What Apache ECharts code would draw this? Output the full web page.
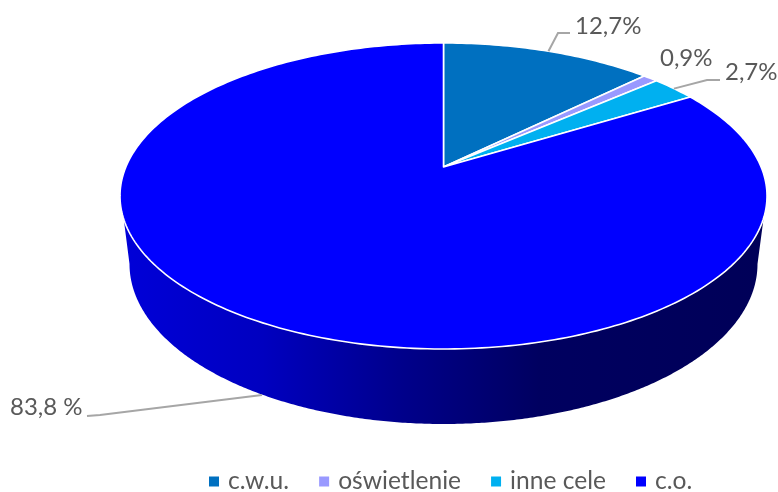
<!DOCTYPE html>
<html>
<head>
<meta charset="utf-8">
<style>html,body{margin:0;padding:0;background:#fff}#c{width:778px;height:492px}</style>
<script src="https://cdn.jsdelivr.net/npm/echarts@6/dist/echarts.min.js"></script>
</head>
<body>
<div id="c"></div>
<script>
// Data
const categories = ['c.w.u.', 'oświetlenie', 'inne cele', 'c.o.'];
const shares = [12.7, 0.9, 2.7, 83.8];
const shareLabels = ['12,7%', '0,9%', '2,7%', '83,8 %'];
const colors = ['#0070C0', '#9999FF', '#00B0F0', '#0000FF'];

// Layout of the drawn perspective disc
const CX = 443.5, RX = 323.5, TOP = 43, APEX = 167, BOTTOM = 349;
const persp = (function () {
  // y = (a v + APEX) / (c v + 1), fitted so v=-1 -> TOP and v=1 -> BOTTOM
  const c = (2 * APEX - TOP - BOTTOM) / (BOTTOM - TOP);
  const a = BOTTOM * (1 + c) - APEX;
  return { c: c, a: a, k: RX * Math.sqrt(1 - c * c) };
})();
const wallStops = [
  [0, '#0000d8'], [0.217, '#0000c0'], [0.43, '#00008c'], [0.65, '#000060'], [1, '#000058']
];
// Lower rim of the side wall
const RIM = { cy: 264, rx: 314, ry: 160, joinY: 218 };
const EDGE = { cy: 196, ry: 153 };
// Leader bends and label positions (page pixels)
const labelPos = [[575, 26], [660, 58], [725, 72], [10, 407]];
const leaderTail = [
  [[558, 33], [570, 33]],
  [],
  [[707, 80], [720, 80]],
  [[100, 415], [87, 416]]
];
const FONT = '24px Lato, "Noto Sans", sans-serif';

const total = shares.reduce((s, v) => s + v, 0);
function project(deg) {
  const t = deg * Math.PI / 180, u = Math.sin(t), v = -Math.cos(t);
  const d = 1 + persp.c * v;
  return [CX + persp.k * u / d, (persp.a * v + APEX) / d];
}
function startDeg(i) {
  let s = 0;
  for (let j = 0; j < i; j++) s += shares[j];
  return s / total * 360;
}
function wallPoints() {
  const pts = [];
  const dy = (RIM.joinY - EDGE.cy) / EDGE.ry;
  const a0 = Math.asin(dy);
  for (let a = a0; a <= Math.PI - a0 + 1e-6; a += Math.PI / 360) {
    pts.push([CX + RX * Math.cos(a), EDGE.cy + EDGE.ry * Math.sin(a)]);
  }
  for (let a = Math.PI; a >= 0; a -= Math.PI / 360) {
    pts.push([CX + RIM.rx * Math.cos(a), RIM.cy + RIM.ry * Math.sin(a)]);
  }
  return pts;
}
function renderSlice(params, api) {
  const i = params.seriesIndex;
  const value = api.value(0);
  const from = startDeg(i), sweep = value / total * 360;
  const pts = [[CX, APEX]];
  const steps = Math.max(4, Math.ceil(sweep));
  for (let s = 0; s <= steps; s++) pts.push(project(from + sweep * s / steps));
  const children = [];
  if (i === 3) {
    children.push({
      type: 'polygon', shape: { points: wallPoints() },
      style: { fill: { type: 'linear', x: 0, y: 0, x2: 1, y2: 0,
        colorStops: wallStops.map(s => ({ offset: s[0], color: s[1] })) } }
    });
  }
  children.push({
    type: 'polygon', shape: { points: pts },
    style: { fill: colors[i], stroke: '#fff', lineWidth: 1.6, lineJoin: 'round' }
  });
  const tail = leaderTail[i];
  if (tail.length) {
    const anchor = i === 3 ? [262, 395] : project(from + sweep / 2);
    children.push({
      type: 'polyline', shape: { points: [anchor].concat(tail) },
      style: { fill: null, stroke: '#A6A6A6', lineWidth: 2 }
    });
  }
  children.push({
    type: 'text',
    style: { text: shareLabels[i], x: labelPos[i][0], y: labelPos[i][1],
      fill: '#595959', font: FONT, textAlign: 'left', textVerticalAlign: 'middle' }
  });
  return { type: 'group', children: children };
}

const chart = echarts.init(document.getElementById('c'), null, { renderer: 'canvas' });
chart.setOption({
  animation: false,
  backgroundColor: '#fff',
  legend: {
    data: categories, left: 209, top: 469, padding: 0, itemWidth: 10, itemHeight: 10, itemGap: 30,
    icon: 'rect', selectedMode: false,
    textStyle: { color: '#595959', fontFamily: 'Lato, "Noto Sans", sans-serif', fontSize: 24.6, padding: [0, 0, 0, 4] }
  },
  series: categories.map((name, i) => ({
    type: 'custom', name: name, coordinateSystem: 'none', silent: true,
    itemStyle: { color: colors[i] },
    renderItem: renderSlice,
    data: [[shares[i]]]
  }))
});
</script>
</body>
</html>
